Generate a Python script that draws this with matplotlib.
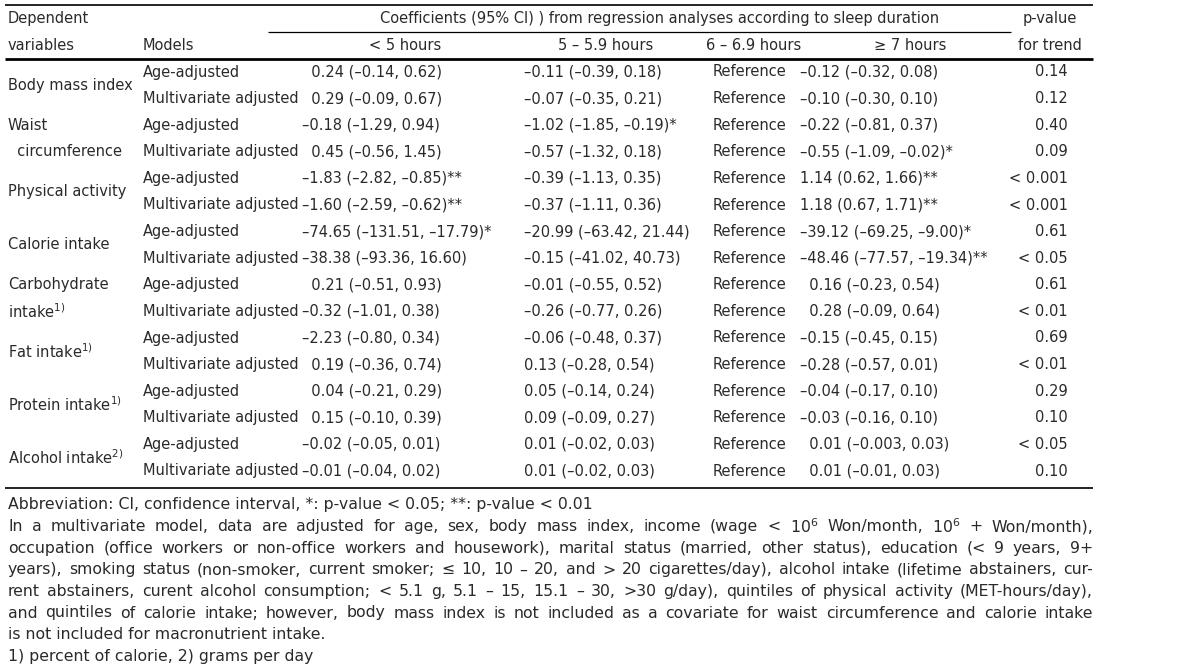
import matplotlib
matplotlib.use('Agg')
import matplotlib.pyplot as plt

# table contents
dep_vars = [('Body mass index',), ('Waist', '  circumference'), ('Physical activity',),
            ('Calorie intake',), ('Carbohydrate', 'intake$^{1)}$'), ('Fat intake$^{1)}$',),
            ('Protein intake$^{1)}$',), ('Alcohol intake$^{2)}$',)]
models = ['Age-adjusted', 'Multivariate adjusted']
col_heads = ['< 5 hours', '5 – 5.9 hours', '6 – 6.9 hours', '≥ 7 hours']

lt5 = ['  0.24 (–0.14, 0.62)', '  0.29 (–0.09, 0.67)', '–0.18 (–1.29, 0.94)', '  0.45 (–0.56, 1.45)',
       '–1.83 (–2.82, –0.85)**', '–1.60 (–2.59, –0.62)**', '–74.65 (–131.51, –17.79)*', '–38.38 (–93.36, 16.60)',
       '  0.21 (–0.51, 0.93)', '–0.32 (–1.01, 0.38)', '–2.23 (–0.80, 0.34)', '  0.19 (–0.36, 0.74)',
       '  0.04 (–0.21, 0.29)', '  0.15 (–0.10, 0.39)', '–0.02 (–0.05, 0.01)', '–0.01 (–0.04, 0.02)']
h5 = ['–0.11 (–0.39, 0.18)', '–0.07 (–0.35, 0.21)', '–1.02 (–1.85, –0.19)*', '–0.57 (–1.32, 0.18)',
      '–0.39 (–1.13, 0.35)', '–0.37 (–1.11, 0.36)', '–20.99 (–63.42, 21.44)', '–0.15 (–41.02, 40.73)',
      '–0.01 (–0.55, 0.52)', '–0.26 (–0.77, 0.26)', '–0.06 (–0.48, 0.37)', '0.13 (–0.28, 0.54)',
      '0.05 (–0.14, 0.24)', '0.09 (–0.09, 0.27)', '0.01 (–0.02, 0.03)', '0.01 (–0.02, 0.03)']
h6 = ['Reference'] * 16
ge7 = ['–0.12 (–0.32, 0.08)', '–0.10 (–0.30, 0.10)', '–0.22 (–0.81, 0.37)', '–0.55 (–1.09, –0.02)*',
       '1.14 (0.62, 1.66)**', '1.18 (0.67, 1.71)**', '–39.12 (–69.25, –9.00)*', '–48.46 (–77.57, –19.34)**',
       '  0.16 (–0.23, 0.54)', '  0.28 (–0.09, 0.64)', '–0.15 (–0.45, 0.15)', '–0.28 (–0.57, 0.01)',
       '–0.04 (–0.17, 0.10)', '–0.03 (–0.16, 0.10)', '  0.01 (–0.003, 0.03)', '  0.01 (–0.01, 0.03)']
p_trend = ['0.14', '0.12', '0.40', '0.09', '< 0.001', '< 0.001', '0.61', '< 0.05',
           '0.61', '< 0.01', '0.69', '< 0.01', '0.29', '0.10', '< 0.05', '0.10']

notes = ['Abbreviation: CI, confidence interval, *: p-value < 0.05; **: p-value < 0.01',
         'In a multivariate model, data are adjusted for age, sex, body mass index, income (wage < 10$^6$ Won/month, 10$^6$ + Won/month),',
         'occupation (office workers or non-office workers and housework), marital status (married, other status), education (< 9 years, 9+',
         'years), smoking status (non-smoker, current smoker; ≤ 10, 10 – 20, and > 20 cigarettes/day), alcohol intake (lifetime abstainers, cur-',
         'rent abstainers, curent alcohol consumption; < 5.1 g, 5.1 – 15, 15.1 – 30, >30 g/day), quintiles of physical activity (MET-hours/day),',
         'and quintiles of calorie intake; however, body mass index is not included as a covariate for waist circumference and calorie intake',
         'is not included for macronutrient intake.',
         '1) percent of calorie, 2) grams per day']
justified = [False, True, True, True, True, True, False, False]

W, H = 1199, 672
fig = plt.figure(figsize=(W / 100, H / 100), dpi=100)
ax = fig.add_axes([0, 0, 1, 1])
ax.set_xlim(0, W)
ax.set_ylim(H, 0)
ax.axis('off')

tc = '#2a2a2a'
fs = 10.5
kw = dict(fontsize=fs, color=tc, va='center', family='DejaVu Sans')

# rules
ax.hlines(5, 5, 1093, color='black', lw=1.2)
ax.hlines(32, 268, 1011, color='black', lw=0.9)
ax.hlines(59, 5, 1093, color='black', lw=2.0)
ax.hlines(488, 5, 1093, color='black', lw=1.2)

# header
ax.text(8, 18, 'Dependent', ha='left', **kw)
ax.text(8, 45, 'variables', ha='left', **kw)
ax.text(143, 45, 'Models', ha='left', **kw)
ax.text(660, 18, 'Coefficients (95% CI) ) from regression analyses according to sleep duration', ha='center', **kw)
for x, h in zip([405, 606, 754, 910], col_heads):
    ax.text(x, 45, h, ha='center', **kw)
ax.text(1050, 18, 'p-value', ha='center', **kw)
ax.text(1050, 45, 'for trend', ha='center', **kw)

row_y0, row_dy = 72, 26.6
for i in range(16):
    y = row_y0 + i * row_dy
    ax.text(143, y, models[i % 2], ha='left', **kw)
    ax.text(302, y, lt5[i], ha='left', **kw)
    ax.text(524, y, h5[i], ha='left', **kw)
    ax.text(713, y, h6[i], ha='left', **kw)
    ax.text(800, y, ge7[i], ha='left', **kw)
    ax.text(1068, y, p_trend[i], ha='right', **kw)

for g, lab in enumerate(dep_vars):
    y1 = row_y0 + 2 * g * row_dy
    if len(lab) == 1:
        ax.text(8, y1 + row_dy / 2, lab[0], ha='left', **kw)
    else:
        ax.text(8, y1, lab[0], ha='left', **kw)
        ax.text(8, y1 + row_dy, lab[1], ha='left', **kw)

# footnotes, some lines justified to the table width
fig.canvas.draw()
rend = fig.canvas.get_renderer()
left, right = 8, 1093
fkw = dict(kw)
fkw['fontsize'] = 11.3
for j, line in enumerate(notes):
    y = 505 + j * 21.6
    if not justified[j]:
        ax.text(left, y, line, ha='left', **fkw)
        continue
    words = line.split(' ')
    size = fkw['fontsize']
    while True:
        objs = [ax.text(0, y, w, ha='left', **dict(fkw, fontsize=size)) for w in words]
        widths = [o.get_window_extent(renderer=rend).width for o in objs]
        gap = (right - left - sum(widths)) / (len(words) - 1)
        if gap >= 4 or size < 9:
            break
        for o in objs:
            o.remove()
        size -= 0.2
    x = left
    for o, w in zip(objs, widths):
        o.set_x(x)
        x += w + gap

fig.savefig('out.png', dpi=100, facecolor='white')
